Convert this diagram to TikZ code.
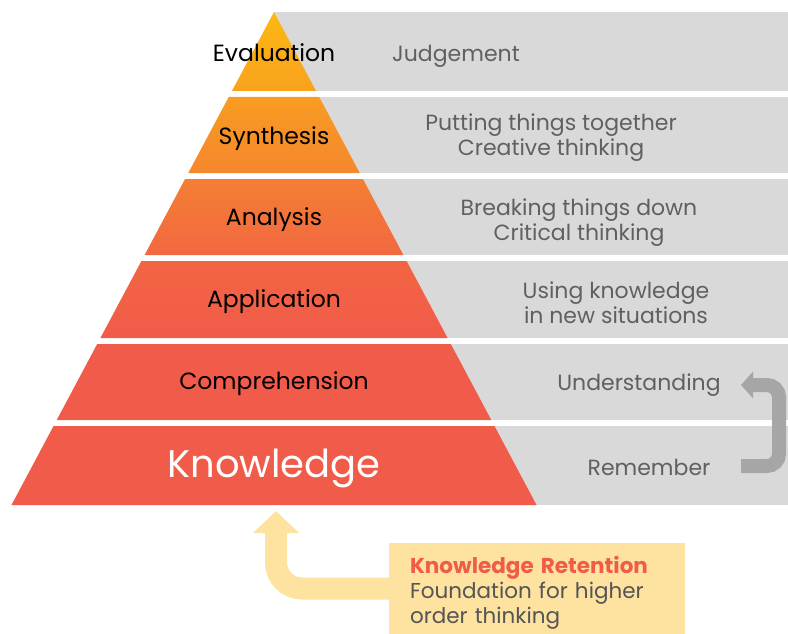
\documentclass[tikz,border=0pt]{standalone}
\usepackage{fontspec}
\setmainfont{Poppins}
\usetikzlibrary{arrows.meta}
\definecolor{bandgray}{HTML}{D9D9D9}
\definecolor{descgray}{HTML}{606060}
\definecolor{loopgray}{HTML}{A6A6A6}
\definecolor{retainyellow}{HTML}{FDE2A0}
\definecolor{retaintext}{HTML}{555555}
\definecolor{coral}{HTML}{F15B4A}
\definecolor{pyrA}{HTML}{FDB813}
\definecolor{pyrB}{HTML}{F9A21D}
\definecolor{pyrC}{HTML}{F89C22}
\definecolor{pyrD}{HTML}{F5872D}
\definecolor{pyrE}{HTML}{F47F34}
\definecolor{pyrF}{HTML}{F26841}
\definecolor{pyrG}{HTML}{F26543}

\begin{document}
\begin{tikzpicture}[x=1pt,y=-1pt]

\tikzset{level label/.style={font=\fontsize{23.5}{27}\selectfont, text=black, anchor=base},
  desc label/.style={font=\fontsize{22}{25}\selectfont, text=descgray, align=center},
  loop arrow/.style={draw=loopgray, line width=14pt, rounded corners=12pt,
    -{Triangle[length=12pt,width=26pt]}},
  retention box/.style={fill=retainyellow, minimum height=91pt, text width=254pt,
    inner xsep=21pt, inner ysep=0pt, align=left, text=retaintext,
    font=\fontsize{21.5}{25}\selectfont},
  retention arrow/.style={draw=retainyellow, line width=22pt, rounded corners=26pt,
    -{Triangle[length=22pt,width=45pt]}}
}
\useasboundingbox (0,0) rectangle (788,634);

\foreach \t/\b/\ct/\cb in {12/91/pyrA/pyrB, 97/173/pyrC/pyrD, 179/255/pyrE/pyrF,
  261/338/pyrG/coral, 344/420/coral/coral, 426/505/coral/coral}{
  \fill[bandgray] (274,\t) rectangle (788,\b);
  \shade[top color=\ct, bottom color=\cb] ({274-0.5325*(\t-12)},\t) -- ({274+0.5325*(\t-12)},\t)
    -- ({274+0.5325*(\b-12)},\b) -- ({274-0.5325*(\b-12)},\b) -- cycle;
}

\node[level label] (evaluation) at (274,62) {Evaluation};
\node[level label] (synthesis) at (274,144) {Synthesis};
\node[level label] (analysis) at (274,225) {Analysis};
\node[level label] (application) at (274,307) {Application};
\node[level label] (comprehension) at (274,389) {Comprehension};
\node[level label, font=\fontsize{38.5}{42}\selectfont, text=white] (knowledge) at (274,477) {Knowledge};

\node[desc label] (judgement) at (456,56) {Judgement};
\node[desc label] (putting) at (551,138) {Putting things together\\Creative thinking};
\node[desc label] (breaking) at (579,223) {Breaking things down\\Critical thinking};
\node[desc label] (using) at (616,303) {Using knowledge\\in new situations};
\node[desc label] (understanding) at (639,385) {Understanding};
\node[desc label] (remember) at (649,467) {Remember};

\coordinate (loopfrom) at (741,466);
\coordinate (loopto) at (741,385);
\draw[loop arrow] (loopfrom) -- ++(38,0) |- (loopto);

\node[retention box] (retention) at (537,588.5) {\rule{0pt}{26pt}\textbf{\textcolor{coral}{Knowledge Retention}}\\
  Foundation for higher\\order thinking};
\coordinate (pyrbase) at (276,511);
\draw[retention arrow] (retention.west) -| (pyrbase);

\end{tikzpicture}
\end{document}
